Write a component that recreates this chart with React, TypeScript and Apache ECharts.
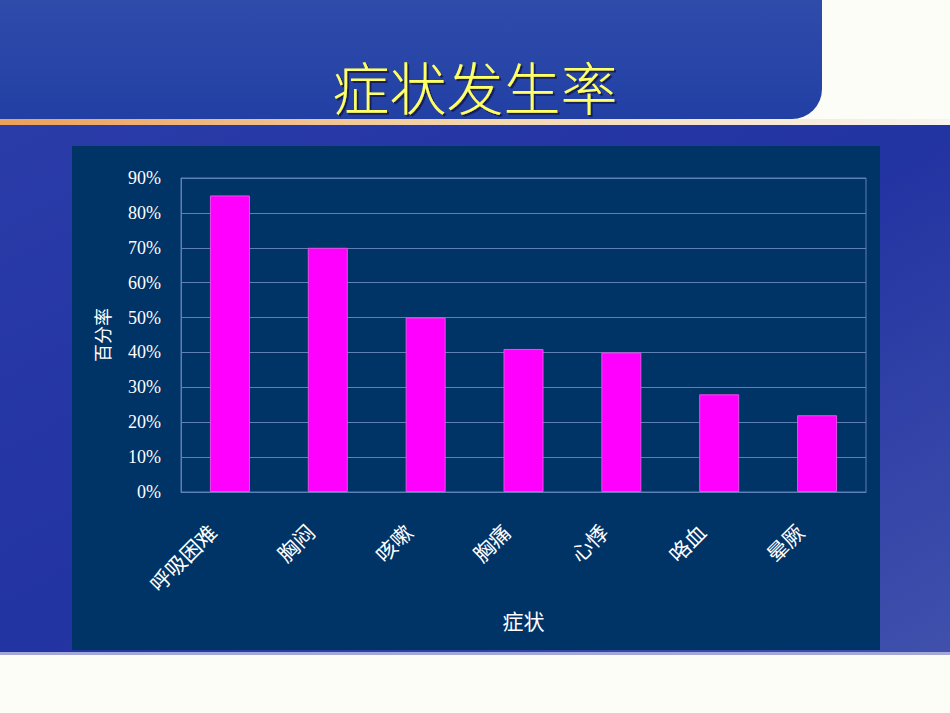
import React, { useEffect, useRef } from "react";
import * as echarts from "echarts";

const categories = ["呼吸困难", "胸闷", "咳嗽", "胸痛", "心悸", "咯血", "晕厥"];
const rates = [85, 70, 50, 41, 40, 28, 22];
const titleText = "症状发生率";
const xName = "症状";
const yName = "百分率";

const CJK = '"Noto Sans CJK SC", "Noto Sans", sans-serif';

export default function App() {
  const ref = useRef<HTMLDivElement>(null);
  useEffect(() => {
    if (!ref.current) return;
    const chart = echarts.init(ref.current, null, { renderer: "svg" });
    const lineColor = "#5f80b4";
    chart.setOption({
      animation: false,
      backgroundColor: "#fdfdf8",
      title: {
        text: titleText,
        left: "center",
        top: 51,
        textStyle: {
          fontFamily: CJK,
          fontSize: 57,
          fontWeight: 300,
          color: "#ffff66",
          textShadowColor: "rgba(20,20,60,0.7)",
          textShadowOffsetX: 2,
          textShadowOffsetY: 2,
          textShadowBlur: 1,
        },
      },
      graphic: [
        {
          type: "rect",
          z: -10,
          shape: { x: 0, y: 124, width: 950, height: 531 },
          style: {
            fill: new echarts.graphic.LinearGradient(0, 0, 1, 1, [
              { offset: 0, color: "#2a3ca8" },
              { offset: 0.5, color: "#2233a2" },
              { offset: 1, color: "#4050ac" },
            ]),
          },
        },
        {
          type: "rect",
          z: -10,
          shape: { x: 0, y: 652, width: 950, height: 3 },
          style: { fill: "#a4a8d6" },
        },
        {
          type: "rect",
          z: -10,
          shape: { x: 0, y: 0, width: 822, height: 119, r: [0, 0, 30, 0] },
          style: {
            fill: new echarts.graphic.LinearGradient(0, 0, 0, 1, [
              { offset: 0, color: "#2f4cab" },
              { offset: 1, color: "#2240a4" },
            ]),
          },
        },
        {
          type: "rect",
          z: -10,
          shape: { x: 0, y: 119, width: 950, height: 6 },
          style: {
            fill: new echarts.graphic.LinearGradient(0, 0, 1, 0, [
              { offset: 0, color: "#eca058" },
              { offset: 0.5, color: "#f4d6ae" },
              { offset: 1, color: "#f8f4ee" },
            ]),
          },
        },
        {
          type: "rect",
          z: -9,
          shape: { x: 72, y: 146, width: 808, height: 504 },
          style: { fill: "#003366" },
        },
      ],
      grid: {
        left: 181,
        top: 178,
        right: 84,
        bottom: 221,
        show: true,
        borderColor: lineColor,
        borderWidth: 1,
        backgroundColor: "transparent",
      },
      xAxis: {
        type: "category",
        data: categories,
        name: xName,
        nameLocation: "middle",
        nameGap: 117,
        nameTextStyle: { color: "#ffffff", fontFamily: CJK, fontSize: 21 },
        axisLine: { lineStyle: { color: lineColor, width: 1 } },
        axisTick: { inside: true, length: 5, lineStyle: { color: lineColor } },
        axisLabel: {
          rotate: 45,
          color: "#ffffff",
          fontFamily: CJK,
          fontSize: 21,
          margin: 18,
          padding: [0, 25, 0, 0],
        },
      },
      yAxis: {
        type: "value",
        min: 0,
        max: 90,
        interval: 10,
        name: yName,
        nameLocation: "middle",
        nameGap: 70,
        nameTextStyle: { color: "#ffffff", fontFamily: CJK, fontSize: 18 },
        axisLine: { show: true, lineStyle: { color: lineColor } },
        axisTick: { show: false },
        splitLine: { lineStyle: { color: lineColor, width: 1 } },
        axisLabel: {
          formatter: "{value}%",
          color: "#ffffff",
          fontFamily: '"Liberation Serif", "DejaVu Serif", serif',
          fontSize: 18,
          margin: 20,
        },
      },
      series: [
        {
          type: "bar",
          data: rates,
          barWidth: 40,
          itemStyle: { color: "#ff00ff", borderColor: "#e650e6", borderWidth: 1 },
        },
      ],
    });
    return () => chart.dispose();
  }, []);
  return (
    <div
      ref={ref}
      style={{ position: "fixed", left: 0, top: 0, width: 950, height: 713 }}
    />
  );
}
